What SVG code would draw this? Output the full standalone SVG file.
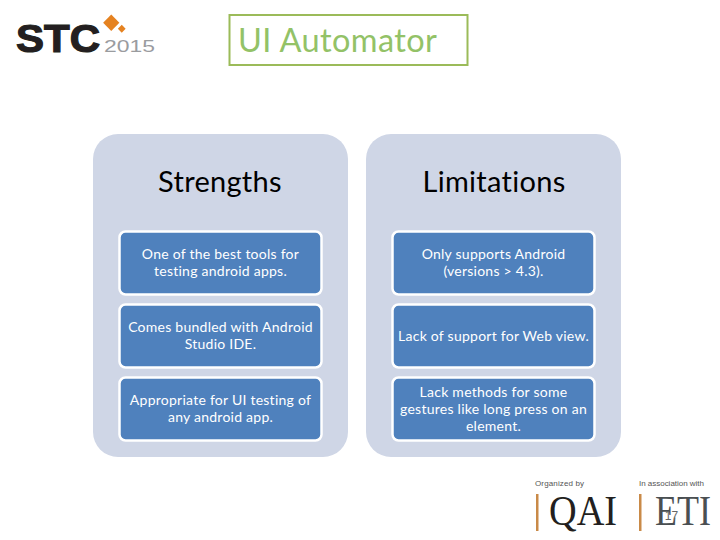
<svg xmlns="http://www.w3.org/2000/svg" width="720" height="540" viewBox="0 0 720 540">
<style>
text{font-family:Lato,"Liberation Sans",sans-serif}
.panel{fill:#cfd6e6}
.box{fill:#4f81bd;stroke:#fff;stroke-width:2.5}
.head{font-size:29px;fill:#000;text-anchor:middle;letter-spacing:.3px}
.item{font-size:14px;fill:#fff;text-anchor:middle;letter-spacing:.25px}
.small{font-family:"Liberation Sans",sans-serif;font-size:8px;fill:#555}
.serif{font-family:"Liberation Serif",serif;font-size:42px}
.bar{fill:#c98a48}
</style>
<rect width="720" height="540" fill="#fff"/>
<g id="logo-stc">
<text x="16" y="52" style="font-family:'Liberation Sans',sans-serif;font-weight:700" font-size="39" fill="#231f20" textLength="84" lengthAdjust="spacingAndGlyphs" stroke="#231f20" stroke-width="1.2">STC</text>
<rect x="105.500" y="17" width="11.500" height="11.500" fill="#e58220" transform="rotate(45 111.250 22.750)"/>
<rect x="119" y="26" width="5.500" height="5.500" fill="#e58220" transform="rotate(45 121.750 28.750)"/>
<text x="104" y="52" style="font-family:'Liberation Sans',sans-serif" font-size="16" fill="#9a9c9f" textLength="51" lengthAdjust="spacingAndGlyphs">2015</text>
</g>
<g id="title">
<rect x="229.500" y="15" width="238" height="50" fill="#fff" stroke="#9bbb59" stroke-width="2"/>
<text x="238" y="52" font-size="32.500" fill="#93c267" letter-spacing=".4">UI Automator</text>
</g>
<g id="strengths">
<rect class="panel" x="93" y="134" width="255" height="323" rx="25"/>
<text class="head" x="220" y="192">Strengths</text>
</g>
<g id="s1"><rect class="box" x="119.500" y="231.500" width="202" height="63" rx="6"/>
<text class="item" x="220.500" y="259">One of the best tools for</text><text class="item" x="220.500" y="276">testing android apps.</text></g>
<g id="s2"><rect class="box" x="119.500" y="304.500" width="202" height="63" rx="6"/>
<text class="item" x="220.500" y="332">Comes bundled with Android</text><text class="item" x="220.500" y="349">Studio IDE.</text></g>
<g id="s3"><rect class="box" x="119.500" y="377.500" width="202" height="63" rx="6"/>
<text class="item" x="220.500" y="405">Appropriate for UI testing of</text><text class="item" x="220.500" y="422">any android app.</text></g>
<g id="limitations">
<rect class="panel" x="366" y="134" width="255" height="323" rx="25"/>
<text class="head" x="494" y="192">Limitations</text>
</g>
<g id="l1"><rect class="box" x="392.500" y="231.500" width="202" height="63" rx="6"/>
<text class="item" x="493.500" y="259">Only supports Android</text><text class="item" x="493.500" y="276">(versions &gt; 4.3).</text></g>
<g id="l2"><rect class="box" x="392.500" y="304.500" width="202" height="63" rx="6"/>
<text class="item" x="493.500" y="341">Lack of support for Web view.</text></g>
<g id="l3"><rect class="box" x="392.500" y="377.500" width="202" height="63" rx="6"/>
<text class="item" x="493.500" y="397">Lack methods for some</text><text class="item" x="493.500" y="414">gestures like long press on an</text><text class="item" x="493.500" y="431">element.</text></g>
<g id="logo-qai">
<text class="small" x="535" y="486" textLength="49">Organized by</text>
<rect class="bar" x="536" y="494" width="2.500" height="37"/>
<text class="serif" x="549" y="525" fill="#231f20" textLength="68" lengthAdjust="spacingAndGlyphs">QAI</text>
</g>
<g id="logo-eti">
<text class="small" x="639" y="486" textLength="65">In association with</text>
<rect class="bar" x="639" y="494" width="2.500" height="37"/>
<text class="serif" x="655" y="525" fill="#4a4f52" textLength="56" lengthAdjust="spacingAndGlyphs">ETI</text>
<text x="671.500" y="520" style="font-family:'Liberation Sans',sans-serif" font-size="12" fill="#666" text-anchor="middle">17</text>
</g>
</svg>
